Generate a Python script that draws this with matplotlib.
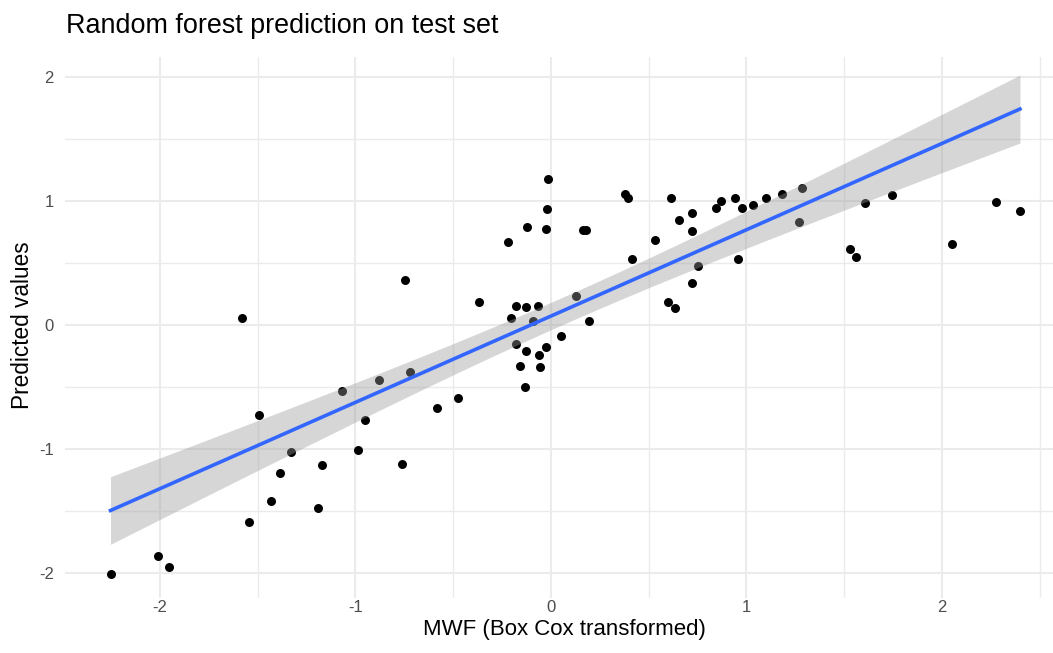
import numpy as np
import matplotlib
matplotlib.use("Agg")
import matplotlib.pyplot as plt
from matplotlib.ticker import MultipleLocator

# MWF (Box Cox transformed) vs predicted values
mwf = [-1.579, -1.492, -1.068, -0.880, -0.721, -0.745, -0.953, -1.328, -0.986,
       -0.759, -1.173, -1.386, -1.429, -1.192, -1.543, -2.010, -1.952, -2.252,
       -0.370, -0.218, -0.123, -0.017, -0.020, -0.027, 0.162, 0.179, 0.380,
       0.397, 0.416, 0.532, 0.616, 0.653, 0.720, 0.723, 0.753, 0.721, 0.597,
       0.634, 0.130, 0.193, 0.050, -0.179, -0.128, -0.066, -0.206, -0.092,
       -0.176, -0.128, -0.027, -0.061, -0.160, -0.055, -0.131, -0.477, -0.583,
       0.842, 0.871, 0.940, 0.980, 1.035, 1.098, 1.183, 1.286, 1.270, 0.957,
       1.528, 1.562, 1.608, 1.743, 2.050, 2.276, 2.399]
pred = [0.059, -0.723, -0.530, -0.442, -0.374, 0.367, -0.766, -1.025, -1.007,
        -1.121, -1.124, -1.191, -1.421, -1.470, -1.590, -1.863, -1.952, -2.005,
        0.188, 0.672, 0.787, 1.181, 0.932, 0.774, 0.763, 0.763, 1.060,
        1.026, 0.530, 0.683, 1.023, 0.847, 0.905, 0.755, 0.474, 0.337, 0.190,
        0.134, 0.233, 0.032, -0.091, 0.156, 0.142, 0.156, 0.059, 0.035,
        -0.150, -0.211, -0.179, -0.241, -0.329, -0.340, -0.498, -0.586, -0.664,
        0.943, 0.996, 1.023, 0.940, 0.969, 1.023, 1.055, 1.104, 0.833, 0.530,
        0.616, 0.552, 0.983, 1.052, 0.656, 0.988, 0.919]

x = np.array(mwf)
y = np.array(pred)

# linear fit + 95% confidence band (like geom_smooth(method = "lm"))
n = len(x)
b1, b0 = np.polyfit(x, y, 1)
resid = y - (b0 + b1 * x)
s = np.sqrt(np.sum(resid ** 2) / (n - 2))
sxx = np.sum((x - x.mean()) ** 2)
t975 = 1.994
xs = np.linspace(x.min(), x.max(), 200)
fit = b0 + b1 * xs
se = s * np.sqrt(1.0 / n + (xs - x.mean()) ** 2 / sxx)

plt.rcParams['font.family'] = ['Liberation Sans', 'DejaVu Sans']
plt.rcParams['axes.unicode_minus'] = False

fig = plt.figure(figsize=(10.53, 6.53), dpi=100)
ax = fig.add_axes([0.0617, 0.084, 0.9383, 0.8287])

ax.scatter(x, y, s=42, color='black', linewidths=0, zorder=3)
ax.fill_between(xs, fit - t975 * se, fit + t975 * se, color='#999999',
                alpha=0.4, linewidth=0, zorder=4)
ax.plot(xs, fit, color='#3366FF', linewidth=2.6, zorder=5)

ax.set_xlim(-2.485, 2.568)
ax.set_ylim(-2.2, 2.16)
ax.xaxis.set_major_locator(MultipleLocator(1))
ax.yaxis.set_major_locator(MultipleLocator(1))
ax.xaxis.set_minor_locator(MultipleLocator(0.5))
ax.yaxis.set_minor_locator(MultipleLocator(0.5))
ax.grid(which='major', color='#EBEBEB', linewidth=1.5, zorder=0)
ax.grid(which='minor', color='#EBEBEB', linewidth=1.0, zorder=0)
ax.set_axisbelow(True)
for sp in ax.spines.values():
    sp.set_visible(False)
ax.tick_params(which='both', length=0, labelsize=12, labelcolor='#4D4D4D')
ax.tick_params(axis='x', pad=1.5)
ax.tick_params(axis='y', pad=8)

ax.set_xlabel('MWF (Box Cox transformed)', fontsize=16, color='black', va='center')
ax.xaxis.set_label_coords(0.506, -0.058)
ax.set_ylabel('Predicted values', fontsize=16.3, color='black', va='center')
ax.yaxis.set_label_coords(-0.0425, 0.505)
fig.text(0.0627, 0.949, 'Random forest prediction on test set', fontsize=19.4,
         ha='left', va='baseline')

fig.savefig('out.png', dpi=100)
